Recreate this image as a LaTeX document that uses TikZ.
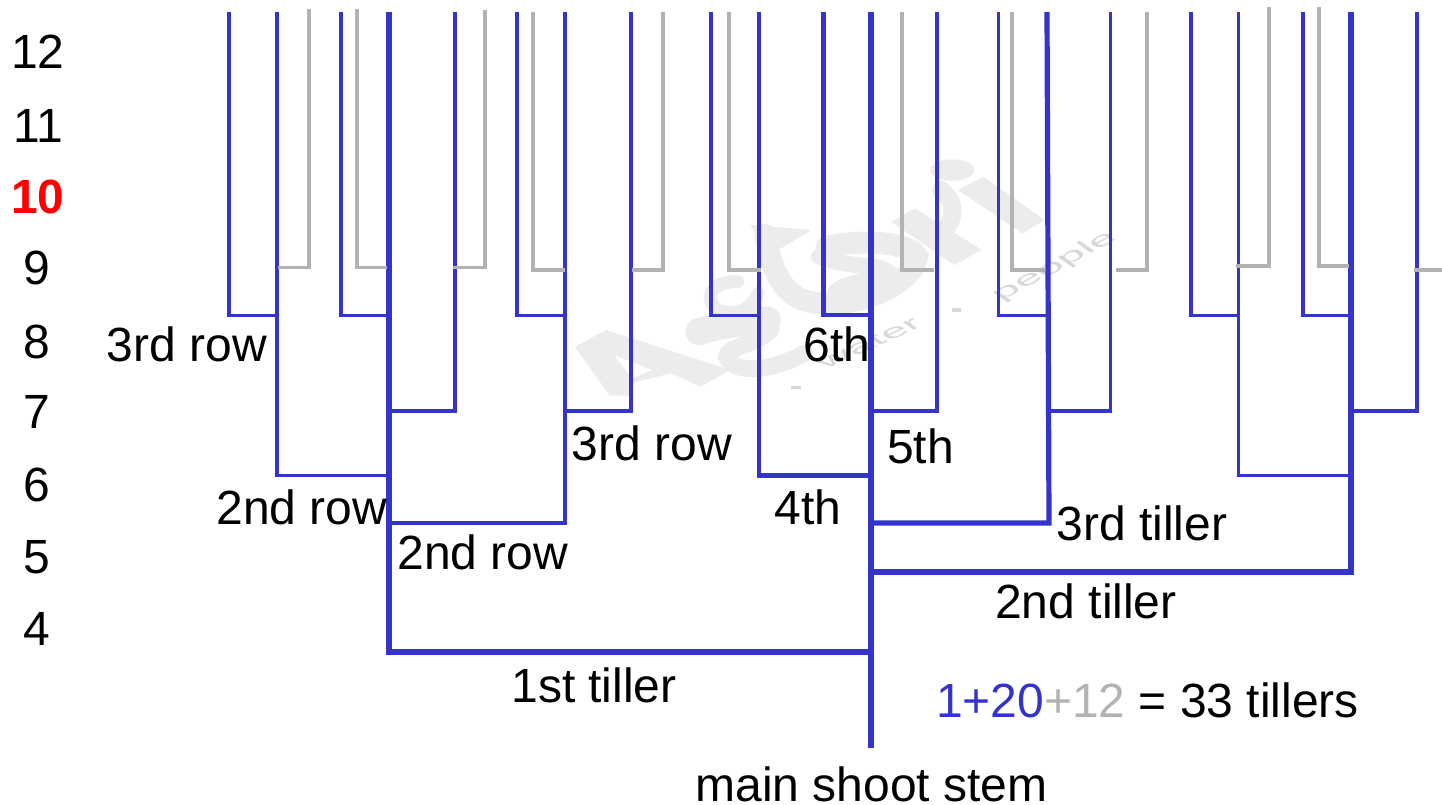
\documentclass[tikz,border=0pt]{standalone}
\usepackage{fontspec}
\setmainfont{Liberation Sans}
\definecolor{tblue}{RGB}{52,52,204}
\definecolor{tgray}{RGB}{178,178,178}
\definecolor{wm}{RGB}{236,236,236}
\definecolor{wmt}{RGB}{215,215,215}
\tikzset{
  lbl/.style={font=\fontsize{48}{50}\selectfont,inner sep=0pt,text=black},
  wmsmall/.style={font=\fontsize{10}{10}\selectfont,text=wmt,inner sep=0pt,anchor=base west,transform shape},
  wmstroke/.style={draw=wm,line cap=round,line width=#1},
  bthin/.style={draw=tblue,line width=3.8pt,line join=miter},
  bmid/.style={draw=tblue,line width=4.6pt,line join=miter},
  bthick/.style={draw=tblue,line width=5.2pt,line join=miter},
  gr/.style={draw=tgray,line width=3.8pt,line join=miter},
}
\begin{document}
\begin{tikzpicture}[x=1pt,y=-1pt]
\useasboundingbox (0,0) rectangle (1442,804);
% watermark logo, in a sheared frame
\begin{scope}[shift={(560,140)},x=.37pt,y=-.3333pt]
  % A
  \fill[wm,even odd rule] (40,620) -- (125,570) -- (460,690) -- (380,740) -- (300,700) -- (190,730) -- (190,767) -- (135,767) -- cycle
     (145,645) -- (250,690) -- (195,715) -- cycle;
  % g
  \draw[wmstroke=13pt] (480,425) .. controls (410,425) and (385,470) .. (425,510) .. controls (470,530) and (520,510) .. (535,460);
  \draw[wmstroke=27pt] (375,575) .. controls (430,555) and (510,545) .. (560,540);
  \draw[wmstroke=17pt] (570,570) .. controls (520,620) and (450,620) .. (450,650) .. controls (470,700) and (560,700) .. (660,640);
  % swirl
  \draw[wmstroke=22pt] (555,285) .. controls (570,370) and (590,480) .. (700,490) .. controls (830,500) and (960,420) .. (965,350) .. controls (950,310) and (830,295) .. (720,320);
  \fill[wm] (515,255) -- (680,270) -- (590,330) -- (560,340) -- cycle;
  \draw[wmstroke=16pt] (700,350) .. controls (780,385) and (860,370) .. (885,395) .. controls (860,425) and (780,420) .. (745,455);
  % r
  \fill[wm] (895,245) -- (960,205) -- (1140,330) -- (1065,375) -- cycle;
  \draw[wmstroke=18pt] (1040,270) .. controls (1065,235) and (1075,190) .. (1030,150);
  % i
  \fill[wm] (1075,150) -- (1145,110) -- (1310,240) -- (1250,280) -- cycle;
  \fill[wm] (1060,90) ellipse (60 and 32);
  % dots
  \fill[wmt] (625,738) rectangle (650,748);
  \fill[wmt] (1060,505) rectangle (1085,515);
\end{scope}
\begin{scope}[cm={3.9,2.1,-2,1.4,(1001,302)}]
  \node[wmsmall] (wmP) at (0,0) {people};
\end{scope}
\begin{scope}[cm={4,1.8,-2,1.4,(826,370)}]
  \node[wmsmall] (wmW) at (0,0) {water};
\end{scope}
% blue third row
\draw[bthin] (277,315.5) -- (229,315.5) -- (229,12);
\draw[bthin] (389,315.5) -- (341,315.5) -- (341,12);
\draw[bthin] (389,411) -- (455,411) -- (455,12);
\draw[bthin] (565,315.5) -- (517,315.5) -- (517,12);
\draw[bthin] (565,411) -- (631,411) -- (631,12);
\draw[bthin] (759,315.5) -- (711,315.5) -- (711,12);
\draw[bmid] (871,315) -- (823.5,315) -- (823.5,12);
\draw[bmid] (871,411) -- (937,411) -- (937,12);
\draw[bthin] (1049,315.5) -- (998.5,315.5) -- (998.5,12);
\draw[bthin] (1049,411) -- (1110.5,411) -- (1110.5,12);
\draw[bthin] (1238,315.5) -- (1191,315.5) -- (1191,12);
\draw[bthin] (1351,315.5) -- (1303,315.5) -- (1303,12);
\draw[bthin] (1351,411) -- (1417,411) -- (1417,12);
% second row
\draw[bthin] (389,475.5) -- (277,475.5) -- (277,12);
\draw[bthin] (389,523) -- (565,523) -- (565,12);
\draw[bmid] (871,475.5) -- (759,475.5) -- (759,12);
\draw[bthin] (1351,475.5) -- (1238.5,475.5) -- (1238.5,12);
% tillers
\draw[bthick] (871,652) -- (389,652) -- (389,12);
\draw[bthick] (871,523) -- (1049,523) -- (1047,12);
\draw[bthick] (871,572) -- (1351,572) -- (1351,12);
\draw[bthick] (871,748) -- (871,12);
% grey third order
\draw[gr] (278,267.5) -- (309,267.5) -- (309,9);
\draw[gr] (387,267.5) -- (357,267.5) -- (357,9);
\draw[gr] (453,267.5) -- (485,267.5) -- (485,10);
\draw[gr] (565,270) -- (533,270) -- (533,12);
\draw[gr] (632,270) -- (663,270) -- (663,12);
\draw[gr] (761,270) -- (729,270) -- (729,12);
\draw[gr] (934,270) -- (902,270) -- (902,12);
\draw[gr] (1045,270) -- (1012,270) -- (1012,12);
\draw[gr] (1116,270) -- (1147,270) -- (1147,12);
\draw[gr] (1236,266) -- (1269,266) -- (1269,7);
\draw[gr] (1349,266) -- (1319,266) -- (1319,7);
\draw[gr] (1414,270) -- (1442,270);
% row numbers
\node[lbl] (n12) at (38,52) {12};
\node[lbl] (n11) at (38,126) {11};
\node[lbl,text=red,font=\fontsize{48}{50}\selectfont\bfseries] (n10) at (38,197) {10};
\node[lbl] (n9) at (37,268) {9};
\node[lbl] (n8) at (37,342) {8};
\node[lbl] (n7) at (37,412) {7};
\node[lbl] (n6) at (37,485) {6};
\node[lbl] (n5) at (37,557) {5};
\node[lbl] (n4) at (37,629) {4};
% labels
\node[lbl] (r3a) at (187,344) {3rd row};
\node[lbl] (r2a) at (302,507) {2nd row};
\node[lbl] (r3b) at (652,443) {3rd row};
\node[lbl] (r2b) at (483,552) {2nd row};
\node[lbl] (t6) at (837,344) {6th};
\node[lbl] (t5) at (920.5,446) {5th};
\node[lbl] (t4) at (808,507) {4th};
\node[lbl] (t3) at (1142,523) {3rd tiller};
\node[lbl] (t2) at (1086,601) {2nd tiller};
\node[lbl] (t1) at (594,685) {1st tiller};
\node[lbl] (sum) at (1147.5,700) {\textcolor{tblue}{1+20}\textcolor{tgray}{+12} = 33 tillers};
\node[lbl] (main) at (871.5,784) {main shoot stem};
\end{tikzpicture}
\end{document}
